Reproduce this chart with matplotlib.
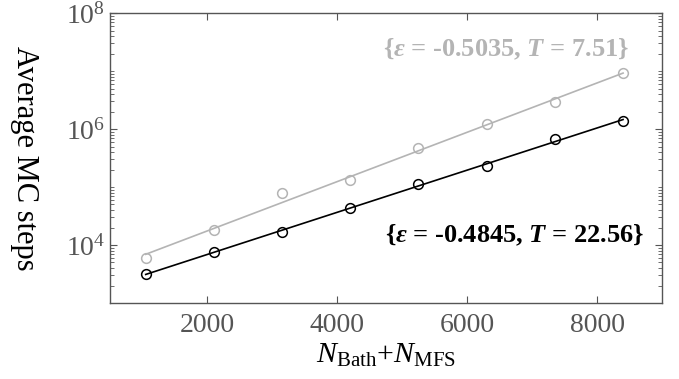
import numpy as np
import matplotlib
matplotlib.use("Agg")
import matplotlib.pyplot as plt
from matplotlib.ticker import LogLocator, NullFormatter

plt.rcParams["font.family"] = "Liberation Serif"
plt.rcParams["mathtext.fontset"] = "custom"
plt.rcParams["mathtext.rm"] = "Liberation Serif"
plt.rcParams["mathtext.it"] = "Liberation Serif:italic"
plt.rcParams["mathtext.bf"] = "Liberation Serif:bold"
plt.rcParams["mathtext.bfit"] = "Liberation Serif:italic:bold"

GREY_LINE = "#b4b4b4"
AXIS_GREY = "#555555"

# system size N_Bath + N_MFS
n_sites = [1050, 2100, 3150, 4200, 5250, 6300, 7350, 8400]
# average MC steps, two parameter sets
steps_t22 = [3150, 7700, 16600, 43000, 114000, 230000, 676000, 1.38e6]
steps_t7 = [5900, 18000, 80000, 130000, 465000, 1.2e6, 2.9e6, 9.3e6]
label_t22 = r"{$\mathbfit{\varepsilon}$ = -0.4845, $\mathbfit{T}$ = 22.56}"
label_t7 = r"{$\mathbfit{\varepsilon}$ = -0.5035, $\mathbfit{T}$ = 7.51}"

x = np.array(n_sites, dtype=float)
fig = plt.figure(figsize=(6.79, 3.79), dpi=100)
ax = fig.add_axes([0.162, 0.2005, 0.813, 0.765])

for ys, col in ((steps_t7, GREY_LINE), (steps_t22, "black")):
    ys = np.array(ys, dtype=float)
    b, a = np.polyfit(x, np.log10(ys), 1)
    ax.plot(x, 10 ** (a + b * x), "-", color=col, lw=1.2)
    ax.plot(x, ys, "o", mfc="none", mec=col, ms=7, mew=1.1)

ax.set_yscale("log")
ax.set_xlim(500, 9000)
ax.set_ylim(1e3, 1e8)
ax.set_xticks([2000, 4000, 6000, 8000])
ax.set_yticks([1e4, 1e6, 1e8])
ax.yaxis.set_minor_locator(LogLocator(base=10, subs=np.arange(1, 10), numticks=20))
ax.yaxis.set_minor_formatter(NullFormatter())

for s in ax.spines.values():
    s.set_color(AXIS_GREY)
    s.set_linewidth(1.0)
ax.tick_params(which="both", direction="in", top=True, right=True, color=AXIS_GREY,
               labelcolor=AXIS_GREY, labelsize=20)
ax.tick_params(axis="x", which="major", pad=7)
ax.tick_params(which="major", length=5)
ax.tick_params(which="minor", length=3)

ax.set_xlabel(r"$N$$_{\rm Bath}$+$N$$_{\rm MFS}$", fontsize=21.5, labelpad=3)
ax.set_ylabel("Average MC steps", fontsize=22, rotation=-90, labelpad=40)

ax.text(0.94, 0.875, label_t7, transform=ax.transAxes, ha="right", va="center",
        fontsize=19, fontweight="bold", color=GREY_LINE)
ax.text(0.967, 0.234, label_t22, transform=ax.transAxes, ha="right", va="center",
        fontsize=19, fontweight="bold", color="black")

fig.savefig("out.png", dpi=100)
